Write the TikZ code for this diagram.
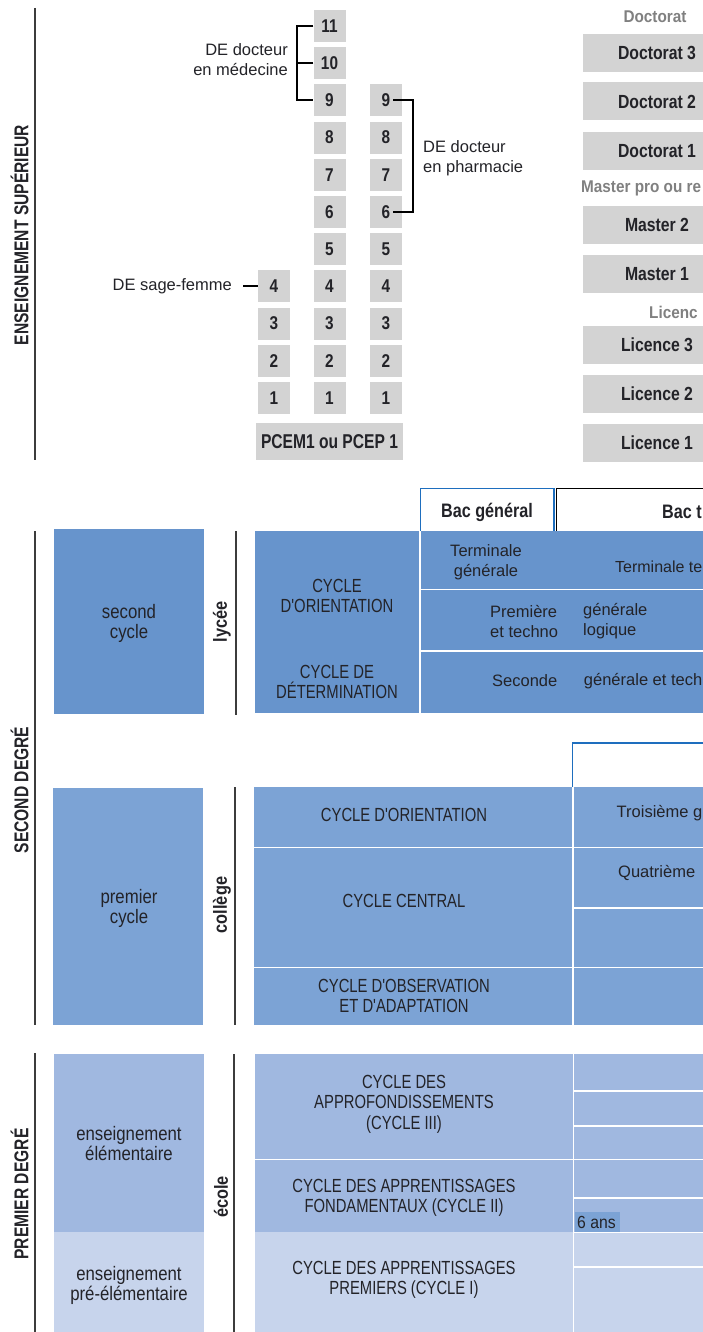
\documentclass[tikz,border=0pt]{standalone}
\usepackage{fontspec}
\setmainfont{Liberation Sans}
\newfontfamily\fBold{Liberation Sans}[FakeStretch=0.9]
\newfontfamily\fBC{Liberation Sans}[FakeStretch=0.83]
\newfontfamily\fCond{Liberation Sans}[FakeStretch=0.86]
\newfontfamily\fCaps{Liberation Sans}[FakeStretch=0.78]
\usetikzlibrary{calc}
\definecolor{boxgray}{RGB}{211,211,211}
\definecolor{txtgray}{RGB}{128,128,128}
\definecolor{lyc}{RGB}{103,148,204}
\definecolor{colb}{RGB}{124,163,213}
\definecolor{elem}{RGB}{160,184,224}
\definecolor{pre}{RGB}{199,212,236}
\definecolor{ink}{RGB}{35,35,40}
\definecolor{bacblue}{RGB}{30,110,190}
\definecolor{linec}{RGB}{60,60,60}
\tikzset{
  gbox/.style={fill=boxgray, minimum width=32pt, minimum height=32pt, inner sep=0pt,
    font=\fBC\bfseries\fontsize{18.5}{20}\selectfont, text=ink},
  rbox/.style={fill=boxgray, minimum width=148pt, minimum height=38pt, inner sep=0pt,
    font=\fBC\bfseries\fontsize{19}{20}\selectfont, text=ink},
  head/.style={inner sep=0pt, font=\fBold\bfseries\fontsize{17}{19}\selectfont, text=txtgray},
  tA/.style={inner sep=0pt, font=\fontsize{16.5}{20}\selectfont, text=ink},
  tC/.style={inner sep=0pt, align=center, font=\fCond\fontsize{19.5}{20}\selectfont, text=ink},
  tCaps/.style={inner sep=0pt, align=center, font=\fCaps\fontsize{19}{20.5}\selectfont, text=ink},
  tL/.style={inner sep=0pt, font=\fCond\bfseries\fontsize{19}{20}\selectfont, text=ink},
  sect/.style={inner sep=0pt, font=\fCaps\bfseries\fontsize{20}{22}\selectfont, text=ink},
  bacf/.style={inner sep=0pt, font=\fBC\bfseries\fontsize{19.5}{20}\selectfont, text=ink},
  brk/.style={draw=black, line width=2pt},
  secline/.style={draw=linec, line width=2pt},
  wline/.style={draw=white, line width=1.6pt},
}
\begin{document}
\begin{tikzpicture}[x=1pt,y=-1pt]
\useasboundingbox (0,0) rectangle (703,1332);
\clip (0,0) rectangle (703,1332);

% ---------------- Enseignement supérieur ----------------
\draw[secline] (35,8) -- (35,460);
\node[sect, rotate=90] (lsup) at (19.5,235) {ENSEIGNEMENT SUPÉRIEUR};

\foreach \k in {1,...,11}{
  \pgfmathsetmacro\yy{398-(\k-1)*37.2}
  \node[gbox] (a\k) at (329.5,\yy) {\k};
}
\foreach \k in {1,...,9}{
  \pgfmathsetmacro\yy{398-(\k-1)*37.2}
  \node[gbox] (b\k) at (386,\yy) {\k};
}
\foreach \k in {1,...,4}{
  \pgfmathsetmacro\yy{398-(\k-1)*37.2}
  \node[gbox] (c\k) at (274,\yy) {\k};
}
\node[gbox, minimum width=147pt, minimum height=37pt,
  font=\fCaps\bfseries\fontsize{20}{21}\selectfont] (pcem) at (329.5,441.5) {PCEM1 ou PCEP 1};

\draw[brk] (a11.west) -- ++(-16,0) |- (a9.west);
\draw[brk] (a10.west) -- ++(-16,0);
\node[tA, align=right, anchor=east] (lmed) at (288,60) {DE docteur\\en médecine};

\draw[brk] ([xshift=-9pt]b9.east) -- ++(20,0) |- ([xshift=-9pt]b6.east);
\node[tA, align=left, anchor=west] (lpha) at (423,158) {DE docteur\\en pharmacie};

\draw[brk] (c4.west) -- ++(-15,0);
\node[tA, anchor=east] (lsf) at (232,286) {DE sage-femme};

\node[head] (hdoc) at (655,17) {Doctorat};
\node[rbox] (d3) at (657,53) {Doctorat 3};
\node[rbox] (d2) at (657,101.5) {Doctorat 2};
\node[rbox] (d1) at (657,151) {Doctorat 1};
\node[head, anchor=west] (hmas) at (581,188) {Master pro ou re};
\node[rbox] (m2) at (657,225) {Master 2};
\node[rbox] (m1) at (657,274) {Master 1};
\node[head, anchor=west] (hlic) at (649,312) {Licenc};
\node[rbox] (l3) at (657,344.5) {Licence 3};
\node[rbox] (l2) at (657,394) {Licence 2};
\node[rbox] (l1) at (657,443) {Licence 1};

% ---------------- Second degré ----------------
\draw[secline] (35,531) -- (35,1025);
\node[sect, rotate=90] (lsec) at (19.5,790) {SECOND DEGRÉ};

% Bac boxes
\draw[bacblue, line width=1.3pt, fill=white] (420.6,488.6) rectangle (554,535);
\draw[black, line width=1.5pt] (556.7,488.7) rectangle (760,535);
\node[bacf] (bacg) at (487,512) {Bac général};
\node[bacf, anchor=east] (bact) at (702,512) {Bac t};

% lycée
\fill[lyc] (54,529) rectangle (204,714);
\node[tC] (sc) at (129,623) {second\\cycle};
\draw[secline] (236,531) -- (236,715);
\node[tL, rotate=90] (llyc) at (222,622) {lycée};
\fill[lyc] (255,531) rectangle (710,713);
\draw[wline] (420.2,531) -- (420.2,713);
\draw[wline] (421,589.5) -- (710,589.5);
\draw[wline] (421,651) -- (710,651);
\node[tCaps] (cyo) at (337,596) {CYCLE\\D'ORIENTATION};
\node[tCaps] (cyd) at (337,682) {CYCLE DE\\DÉTERMINATION};
\node[tA, align=center] (term) at (486,562) {Terminale\\générale};
\node[tA, anchor=east, font=\fontsize{16}{20}\selectfont] (termt) at (702.5,567) {Terminale te};
\node[tA, align=left, anchor=west] (prem) at (490,621) {Première\\et techno};
\node[tA, align=left, anchor=west] (premg) at (583,621) {générale\\logique};
\node[tA, anchor=west] (seco) at (492,681) {Seconde};
\node[tA, anchor=east] (secog) at (702.5,681) {générale et tech};

% collège
\fill[colb] (53,788) rectangle (203,1025);
\node[tC] (pc) at (129,908) {premier\\cycle};
\draw[secline] (235,787) -- (235,1025);
\node[tL, rotate=90] (lcol) at (222,905) {collège};
\fill[colb] (254,787) rectangle (710,1025);
\draw[wline] (573,787) -- (573,1025);
\draw[wline] (254,847.5) -- (710,847.5);
\draw[wline] (254,967.5) -- (710,967.5);
\draw[wline] (574,908) -- (710,908);
\draw[bacblue, line width=1.3pt] (572.4,787) -- (572.4,743) -- (710,743);
\node[tCaps] (cco) at (404,815) {CYCLE D'ORIENTATION};
\node[tCaps] (ccc) at (404,901) {CYCLE CENTRAL};
\node[tCaps] (cob) at (404,996) {CYCLE D'OBSERVATION\\ET D'ADAPTATION};
\node[tA, anchor=east] (troi) at (702.5,813) {Troisième g};
\node[tA, anchor=west] (quat) at (618,873) {Quatrième};

% ---------------- Premier degré ----------------
\draw[secline] (35,1053) -- (35,1332);
\node[sect, rotate=90] (lpre) at (19.5,1194) {PREMIER DEGRÉ};

\fill[elem] (54,1054) rectangle (204,1232);
\fill[pre] (54,1232) rectangle (204,1332);
\node[tC] (ee) at (129,1144) {enseignement\\élémentaire};
\node[tC] (ep) at (129,1285) {enseignement\\pré-élémentaire};
\draw[secline] (234,1054) -- (234,1332);
\node[tL, rotate=90] (leco) at (221,1197) {école};
\fill[elem] (255,1054) rectangle (710,1232);
\fill[pre] (255,1232) rectangle (710,1332);
\draw[wline] (573.5,1054) -- (573.5,1332);
\draw[wline] (255,1159.5) -- (710,1159.5);
\foreach \yy in {1091,1126,1198,1232.5,1267}{
  \draw[wline] (574,\yy) -- (710,\yy);
}
\node[tCaps] (c3) at (404,1104) {CYCLE DES\\APPROFONDISSEMENTS\\(CYCLE III)};
\node[tCaps] (c2) at (404,1198) {CYCLE DES APPRENTISSAGES\\FONDAMENTAUX (CYCLE II)};
\node[tCaps] (c1) at (404,1280) {CYCLE DES APPRENTISSAGES\\PREMIERS (CYCLE I)};
\fill[colb] (575,1212) rectangle (620,1231.5);
\node[inner sep=0pt, anchor=west, font=\fBold\fontsize{17.5}{19}\selectfont, text=ink] (six) at (577,1222) {6 ans};
\end{tikzpicture}
\end{document}
